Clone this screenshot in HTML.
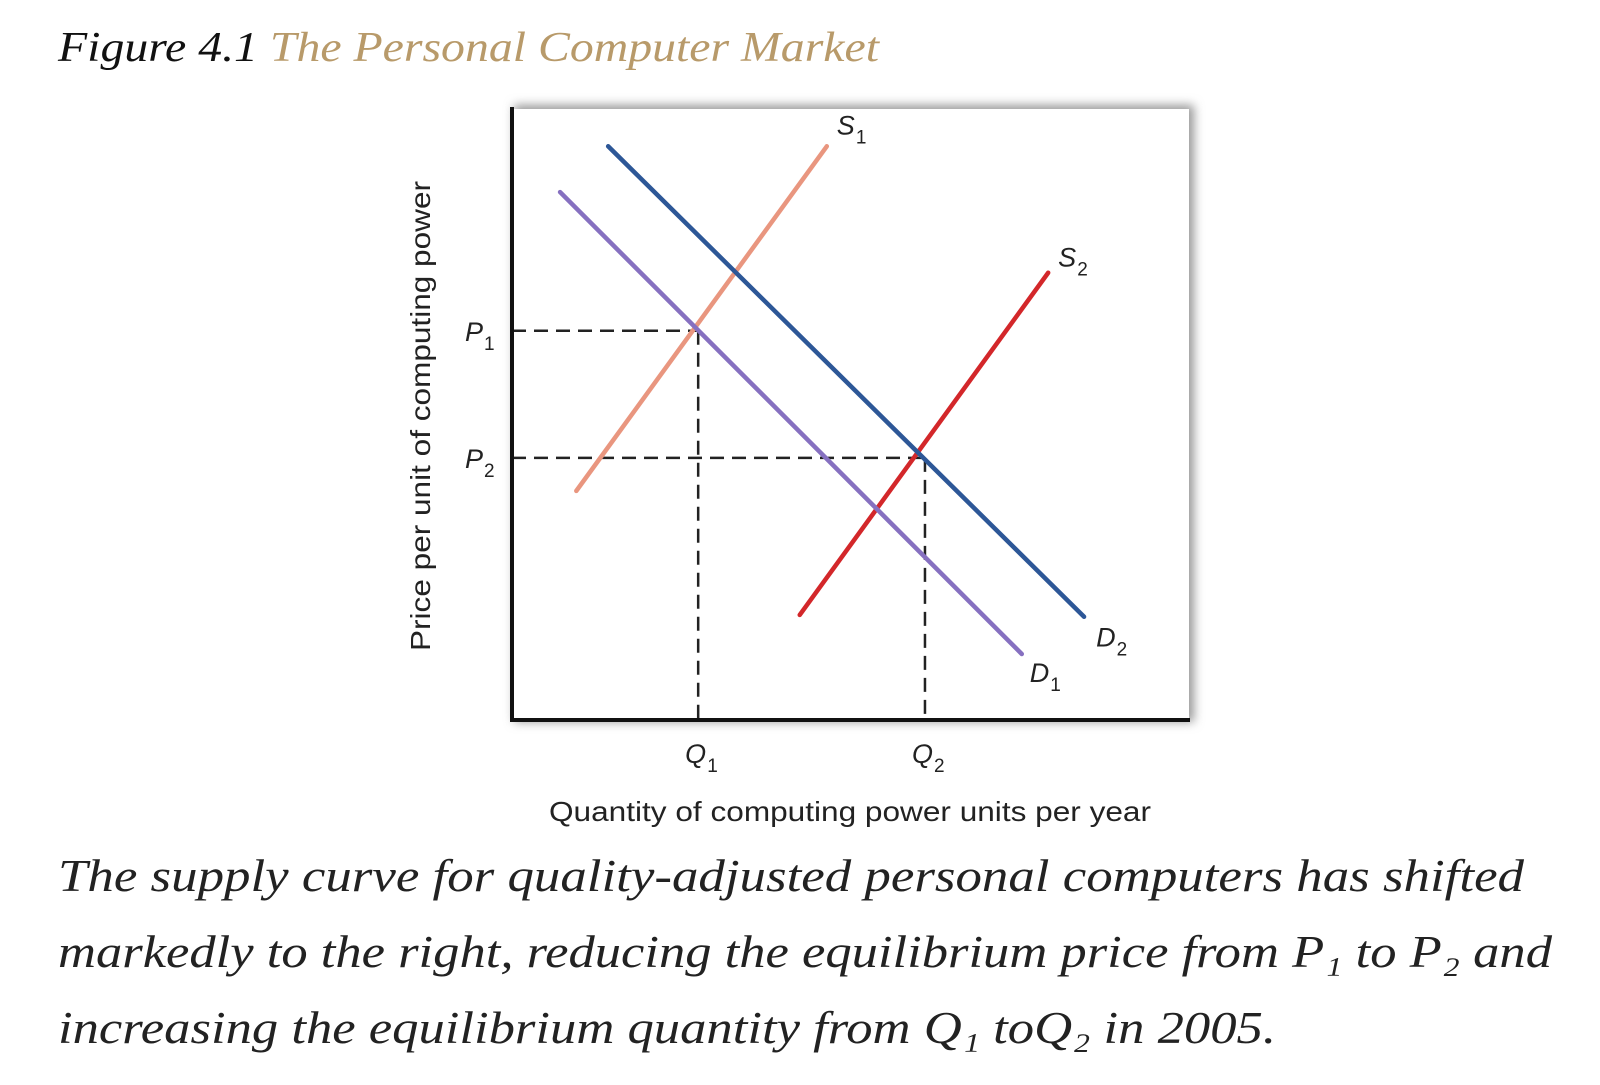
<!DOCTYPE html>
<html><head><meta charset="utf-8"><style>
html,body{margin:0;padding:0;background:#fff;width:1600px;height:1085px;overflow:hidden}
</style></head><body>
<svg width="1600" height="1085" viewBox="0 0 1600 1085" xmlns="http://www.w3.org/2000/svg">
<defs><filter id="sh" x="-5%" y="-5%" width="110%" height="110%"><feGaussianBlur stdDeviation="5"/></filter></defs>
<text x="58" y="61" textLength="821" lengthAdjust="spacingAndGlyphs" font-family="Liberation Serif, serif" font-style="italic" font-size="42"><tspan fill="#111">Figure 4.1 </tspan><tspan fill="#b89a6a">The Personal Computer Market</tspan></text>
<rect x="514" y="105" width="680" height="617" fill="#999" filter="url(#sh)"/>
<rect x="512" y="109" width="677" height="611" fill="#fff"/>
<g id="marks"></g>
<line x1="512" y1="107" x2="512" y2="722" stroke="#111" stroke-width="4"/>
<line x1="510" y1="720" x2="1190" y2="720" stroke="#111" stroke-width="4"/>
<g font-family="Liberation Sans, sans-serif" font-style="italic" font-size="27" fill="#222" id="labels"></g>
<text x="549" y="821" textLength="602" lengthAdjust="spacingAndGlyphs" font-family="Liberation Sans, sans-serif" font-size="28" fill="#222">Quantity of computing power units per year</text>
<text transform="translate(430,651) rotate(-90)" textLength="470" lengthAdjust="spacingAndGlyphs" font-family="Liberation Sans, sans-serif" font-size="28" fill="#222">Price per unit of computing power</text>
<g font-family="Liberation Serif, serif" font-style="italic" font-size="45" fill="#222">
<text x="58" y="891" textLength="1466" lengthAdjust="spacingAndGlyphs">The supply curve for quality-adjusted personal computers has shifted</text>
<text x="58" y="967" textLength="1494" lengthAdjust="spacingAndGlyphs">markedly to the right, reducing the equilibrium price from P₁ to P₂ and</text>
<text x="58" y="1043" textLength="1218" lengthAdjust="spacingAndGlyphs">increasing the equilibrium quantity from Q₁ toQ₂ in 2005.</text>
</g>
</svg>
<script>
const seriesNames = ["S1","S2","D1","D2"];
const seriesX0 = [0.95, 4.25, 0.71, 1.42];
const seriesY0 = [3.75, 1.72, 8.64, 9.39];
const seriesX1 = [4.65, 7.92, 7.53, 8.45];
const seriesY1 = [9.39, 7.32, 1.08, 1.69];
const equilP = [6.37, 4.29];
const equilQ = [2.75, 6.10];
const priceLabels = ["P1","P2"];
const qtyLabels = ["Q1","Q2"];

const colors = ["#e9967f","#d3272a","#8670c0","#2d5797"];
const xs = v => 512 + v * 67.7;
const ys = v => 720 - v * 61.1;
const NS = "http://www.w3.org/2000/svg";
const marks = document.getElementById("marks");
const labels = document.getElementById("labels");
function mk(tag, attrs, parent){const e=document.createElementNS(NS,tag);for(const k in attrs)e.setAttribute(k,attrs[k]);parent.appendChild(e);return e;}
function sub(parent, x, y, main, s, name){
  const t = mk("text",{x:x,y:y},parent);
  
  
  t.textContent = main;
  const ts = mk("tspan",{dx:1,dy:9,"font-size":19,"font-style":"normal"},t);
  ts.textContent = s;
}
for(let i=0;i<equilP.length;i++){
  const h = mk("line",{x1:xs(0),y1:ys(equilP[i]),x2:xs(equilQ[i]),y2:ys(equilP[i]),stroke:"#222","stroke-width":2.5,"stroke-dasharray":"14 8"},marks);
  
  
  const v = mk("line",{x1:xs(equilQ[i]),y1:ys(equilP[i]),x2:xs(equilQ[i]),y2:ys(0),stroke:"#222","stroke-width":2.5,"stroke-dasharray":"14 8"},marks);
  
  
  sub(labels, xs(0)-47, ys(equilP[i])+10, priceLabels[i][0], priceLabels[i][1], 'price-label-' + (i+1));
  sub(labels, xs(equilQ[i])-13, 763, qtyLabels[i][0], qtyLabels[i][1], 'quantity-label-' + (i+1));
}
const lblOff = [[10,-12],[10,-6],[8,28],[12,30]];
for(let i=0;i<seriesNames.length;i++){
  const l = mk("line",{x1:xs(seriesX0[i]),y1:ys(seriesY0[i]),x2:xs(seriesX1[i]),y2:ys(seriesY1[i]),stroke:colors[i],"stroke-width":4.5,"stroke-linecap":"round"},marks);
  
  
  sub(labels, xs(seriesX1[i])+lblOff[i][0], ys(seriesY1[i])+lblOff[i][1], seriesNames[i][0], seriesNames[i][1], 'curve-label-' + seriesNames[i].toLowerCase());
}
</script>
</body></html>
